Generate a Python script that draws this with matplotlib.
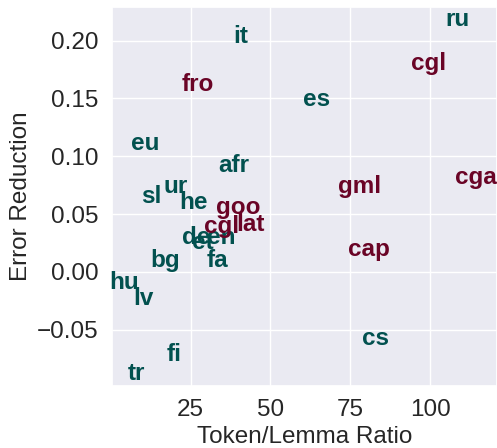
import matplotlib
matplotlib.use("Agg")
import matplotlib.pyplot as plt
import seaborn as sns

# label positions (token/lemma ratio, error reduction)
labels = ["it", "ru", "es", "eu", "afr", "sl", "ur", "he", "de", "et", "en",
          "fa", "bg", "hu", "lv", "fi", "tr", "cs",
          "fro", "cgl", "cga", "gml", "goo", "cgl", "lat", "cap"]
ratio = [38.4, 104.9, 60.1, 6.3, 33.6, 9.6, 16.4, 21.4, 22.3, 25.4, 30.1,
         30.0, 12.2, -0.5, 7.0, 17.3, 5.4, 78.6,
         22.0, 94.0, 107.9, 71.3, 32.8, 29.3, 39.2, 74.2]
reduction = [0.198, 0.213, 0.1435, 0.105, 0.086, 0.060, 0.068, 0.054, 0.024, 0.020, 0.024,
             0.0045, 0.004, -0.015, -0.029, -0.077, -0.0935, -0.063,
             0.1565, 0.175, 0.076, 0.068, 0.050, 0.034, 0.0356, 0.014]
group = ["ud"] * 18 + ["hist"] * 8

colors = {"ud": "#02514f", "hist": "#6a0426"}

sns.set_theme(style="darkgrid")
plt.rcParams["font.family"] = ["Liberation Sans", "DejaVu Sans"]

fig = plt.figure(figsize=(4.97, 4.48), dpi=100)
ax = fig.add_axes([0.2254, 0.139, 0.7746, 0.845])

for lab, x, y, g in zip(labels, ratio, reduction, group):
    ax.text(x, y, lab, color=colors[g], fontsize=17.5, fontweight="bold",
            ha="left", va="baseline")

ax.set_xlim(0.33, 121)
ax.set_ylim(-0.0984, 0.2289)
ax.set_xticks([25, 50, 75, 100])
ax.set_yticks([-0.05, 0.0, 0.05, 0.10, 0.15, 0.20])
ax.set_yticklabels(["\u22120.05", "0.00", "0.05", "0.10", "0.15", "0.20"])
ax.tick_params(labelsize=17.5, colors="#262626")
ax.set_xlabel("Token/Lemma Ratio", fontsize=17.5, color="#262626")
ax.set_ylabel("Error Reduction", fontsize=17.5, color="#262626")

fig.savefig("out.png", dpi=100)
